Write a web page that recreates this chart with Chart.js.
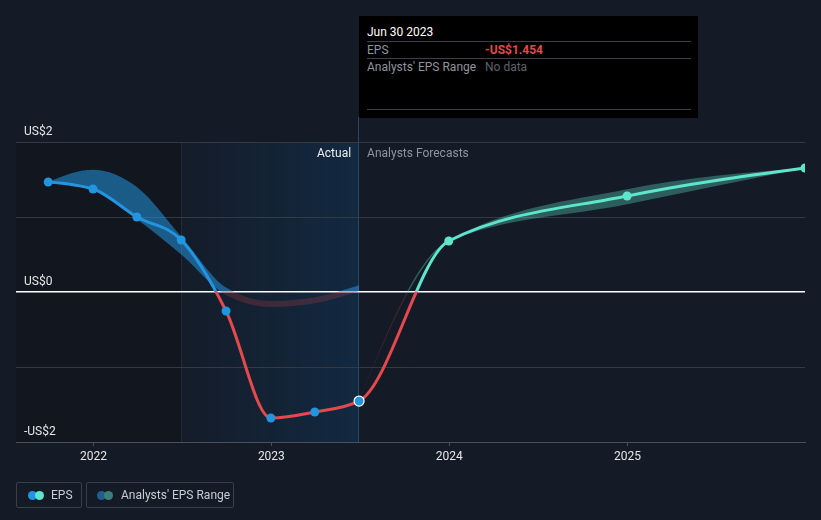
<!DOCTYPE html>
<html>
<head>
<meta charset="utf-8">
<script src="https://cdn.jsdelivr.net/npm/chart.js@4.4.0/dist/chart.umd.min.js"></script>
<style>
html,body{margin:0;padding:0;background:#151b26;}
#wrap{position:relative;width:821px;height:520px;font-family:Roboto,"Noto Sans",sans-serif;overflow:hidden;}
#c{position:absolute;left:0;top:0;}
#tip{position:absolute;left:359px;top:16px;width:339px;height:102px;background:#000;font-size:12px;}
#tip .t{position:absolute;left:8px;white-space:nowrap;line-height:14px;}
#tip .hr{position:absolute;left:8px;width:324px;height:1px;background:#3c3f44;}
.leg{position:absolute;top:482px;height:26px;border:1px solid #3a3f48;border-radius:2px;box-sizing:border-box;font-size:12px;color:#c9ccd1;}
.leg .d{position:absolute;top:8px;width:9px;height:9px;border-radius:50%;}
.leg .l{position:absolute;top:5px;line-height:14px;white-space:nowrap;}
</style>
</head>
<body>
<div id="wrap">
<canvas id="c" width="821" height="520"></canvas>
<div id="tip">
  <div class="t" style="top:9px;color:#ffffff;">Jun 30 2023</div>
  <div class="hr" style="top:25px;"></div>
  <div class="t" style="top:27px;color:#8f959d;">EPS</div>
  <div class="t" style="top:27px;left:126px;color:#e5484d;font-weight:bold;">-US$1.454</div>
  <div class="hr" style="top:42px;"></div>
  <div class="t" style="top:44px;color:#8f959d;">Analysts' EPS Range</div>
  <div class="t" style="top:44px;left:126px;color:#5e636b;">No data</div>
  <div class="hr" style="top:93px;"></div>
</div>
<div class="leg" style="left:16px;width:66px;">
  <div class="d" style="left:11px;background:#2394df;"></div>
  <div class="d" style="left:18px;background:#5fe5cc;"></div>
  <div class="l" style="left:34px;">EPS</div>
</div>
<div class="leg" style="left:86px;width:148px;">
  <div class="d" style="left:10px;background:#1f5f8f;"></div>
  <div class="d" style="left:17px;background:#3d7f78;"></div>
  <div class="l" style="left:34px;">Analysts' EPS Range</div>
</div>
</div>
<script>
// ---- data ----
const actualDates = ['2021-09-30','2021-12-31','2022-03-31','2022-06-30','2022-09-30','2022-12-31','2023-03-31','2023-06-30'];
const actualEps   = [1.467, 1.373, 1.0, 0.693, -0.253, -1.68, -1.6, -1.454];
const forecastDates = ['2023-12-31','2024-12-31','2025-12-31'];
const forecastEps   = [0.68, 1.28, 1.653];
const pastRangeHigh = [1.467, 1.63, 1.40, 0.74, 0.06, -0.12, -0.07, 0.09];
const pastRangeLow  = [1.467, 1.37, 0.97, 0.50, -0.04, -0.20, -0.15, 0.01];
const fcRangeDates = ['2023-06-30','2023-12-31','2024-12-31','2025-12-31'];
const fcRangeHigh  = [-1.454, 0.68, 1.37, 1.653];
const fcRangeLow   = [-1.454, 0.68, 1.17, 1.653];
const xTickDates  = ['2022-01-01','2023-01-01','2024-01-01','2025-01-01'];
const xTickLabels = ['2022','2023','2024','2025'];
const yTickValues = [-2,-1,0,1,2];
const yTickLabels = ['-US$2','','US$0','','US$2'];
const xMinDate = '2021-07-26', xMaxDate = '2025-12-31';
const rangeStartDate = '2022-06-30';   // start of shaded "Actual" window
const actualEndDate  = '2023-06-30';   // actual / forecast split

const ts = s => Date.parse(s + 'T00:00:00Z');
const pts = (d, v) => d.map((s, i) => ({x: ts(s), y: v[i]}));
const epsPoints = pts(actualDates, actualEps).concat(pts(forecastDates, forecastEps));
const lastActual = actualDates.length - 1;

const BLUE = '#2394df', RED = '#e5484d', TEAL = '#5fe5cc';

function signGrad(chart, pos, neg) {
  const {ctx, chartArea, scales} = chart;
  if (!chartArea || !scales.y) return pos;
  const y0 = scales.y.getPixelForValue(0);
  const g = ctx.createLinearGradient(0, chartArea.top, 0, chartArea.bottom);
  const f = Math.min(1, Math.max(0, (y0 - chartArea.top) / (chartArea.bottom - chartArea.top)));
  g.addColorStop(0, pos); g.addColorStop(f, pos); g.addColorStop(f, neg); g.addColorStop(1, neg);
  return g;
}

// monotone-X (Steffen) control points, same curve family as the original
const monoPlugin = {
  id: 'monoX',
  beforeDatasetsDraw(chart) {
    chart.data.datasets.forEach((ds, di) => {
      const meta = chart.getDatasetMeta(di);
      const line = meta.dataset;
      if (!line) return;
      line.updateControlPoints(chart.chartArea, 'x');
      const p = meta.data, n = p.length;
      if (n < 2) return;
      const sgn = v => v < 0 ? -1 : 1;
      const t = new Array(n);
      if (n === 2) {
        t[0] = t[1] = (p[1].y - p[0].y) / (p[1].x - p[0].x);
      } else {
        for (let i = 1; i < n - 1; i++) {
          const h0 = p[i].x - p[i-1].x, h1 = p[i+1].x - p[i].x;
          const s0 = (p[i].y - p[i-1].y) / h0, s1 = (p[i+1].y - p[i].y) / h1;
          const q = (s0 * h1 + s1 * h0) / (h0 + h1);
          t[i] = (sgn(s0) + sgn(s1)) * Math.min(Math.abs(s0), Math.abs(s1), 0.5 * Math.abs(q)) || 0;
        }
        t[0] = (3 * (p[1].y - p[0].y) / (p[1].x - p[0].x) - t[1]) / 2;
        t[n-1] = (3 * (p[n-1].y - p[n-2].y) / (p[n-1].x - p[n-2].x) - t[n-2]) / 2;
      }
      for (let i = 0; i < n - 1; i++) {
        const h = (p[i+1].x - p[i].x) / 3;
        p[i].cp2x = p[i].x + h; p[i].cp2y = p[i].y + t[i] * h;
        p[i+1].cp1x = p[i+1].x - h; p[i+1].cp1y = p[i+1].y - t[i+1] * h;
      }
      p[0].cp1x = p[0].x; p[0].cp1y = p[0].y;
      p[n-1].cp2x = p[n-1].x; p[n-1].cp2y = p[n-1].y;
    });
  }
};

const bgPlugin = {
  id: 'bgShade',
  beforeDraw(chart) {
    const {ctx, chartArea: a, scales: {x}} = chart;
    const xs = x.getPixelForValue(ts(rangeStartDate));
    const xe = x.getPixelForValue(ts(actualEndDate));
    ctx.save();
    ctx.fillStyle = 'rgba(0,0,0,0.18)';
    ctx.fillRect(a.left, a.top, xs - a.left, a.bottom - a.top);
    const g = ctx.createLinearGradient(xs, 0, xe, 0);
    g.addColorStop(0, 'rgba(14,70,120,0.04)');
    g.addColorStop(1, 'rgba(14,70,120,0.34)');
    ctx.fillStyle = g;
    ctx.fillRect(xs, a.top, xe - xs, a.bottom - a.top);
    ctx.strokeStyle = '#222c3a';
    ctx.lineWidth = 1;
    ctx.beginPath(); ctx.moveTo(Math.round(xs) + 0.5, a.top); ctx.lineTo(Math.round(xs) + 0.5, a.bottom); ctx.stroke();
    ctx.strokeStyle = '#2b4660';
    ctx.beginPath(); ctx.moveTo(Math.round(xe) - 0.5, 117); ctx.lineTo(Math.round(xe) - 0.5, a.bottom); ctx.stroke();
    ctx.font = '12px Roboto';
    ctx.textBaseline = 'middle';
    ctx.textAlign = 'right';
    ctx.fillStyle = '#eeeeee';
    ctx.fillText('Actual', xe - 8, a.top + 12);
    ctx.textAlign = 'left';
    ctx.fillStyle = '#8f959d';
    ctx.fillText('Analysts Forecasts', xe + 8, a.top + 12);
    ctx.restore();
  }
};

Chart.defaults.font.family = 'Roboto';

new Chart(document.getElementById('c'), {
  type: 'line',
  data: {
    datasets: [
      {
        label: 'EPS',
        data: epsPoints,
        borderWidth: 3,
        cubicInterpolationMode: 'monotone',
        borderColor: BLUE,
        segment: {
          borderColor: c => c.p0DataIndex >= lastActual
            ? signGrad(c.chart, TEAL, RED)
            : signGrad(c.chart, BLUE, RED)
        },
        pointRadius: c => c.dataIndex === lastActual ? 5 : 4.5,
        pointBackgroundColor: c => c.dataIndex > lastActual ? TEAL : BLUE,
        pointBorderColor: c => c.dataIndex === lastActual ? '#ffffff' : 'rgba(0,0,0,0)',
        pointBorderWidth: c => c.dataIndex === lastActual ? 1.2 : 0,
        fill: false
      },
      {
        label: 'past range high',
        data: pts(actualDates, pastRangeHigh),
        borderWidth: 0, pointRadius: 0,
        cubicInterpolationMode: 'monotone',
        backgroundColor: c => signGrad(c.chart, 'rgba(35,148,223,0.55)', 'rgba(229,72,77,0.2)'),
        fill: '+1'
      },
      {
        label: 'past range low',
        data: pts(actualDates, pastRangeLow),
        borderWidth: 0, pointRadius: 0,
        cubicInterpolationMode: 'monotone',
        fill: false
      },
      {
        label: 'fc range high',
        data: pts(fcRangeDates, fcRangeHigh),
        borderWidth: 0, pointRadius: 0,
        cubicInterpolationMode: 'monotone',
        backgroundColor: c => signGrad(c.chart, 'rgba(94,229,204,0.33)', 'rgba(229,72,77,0.2)'),
        fill: '+1'
      },
      {
        label: 'fc range low',
        data: pts(fcRangeDates, fcRangeLow),
        borderWidth: 0, pointRadius: 0,
        cubicInterpolationMode: 'monotone',
        fill: false
      }
    ]
  },
  options: {
    responsive: false,
    animation: false,
    events: [],
    layout: {padding: {left: 16, right: 16, top: 142, bottom: 48}},
    plugins: {legend: {display: false}, tooltip: {enabled: false}},
    scales: {
      x: {
        type: 'linear',
        min: ts(xMinDate), max: ts(xMaxDate),
        afterBuildTicks: s => { s.ticks = xTickDates.map(d => ({value: ts(d)})); },
        afterFit: s => { s.height = 30; },
        ticks: {
          autoSkip: false, maxRotation: 0,
          callback: (v, i) => xTickLabels[i],
          color: '#e6e6e6', font: {size: 12}, padding: 4
        },
        grid: {drawOnChartArea: false, drawTicks: true, tickLength: 4, color: '#4a4f58'},
        border: {display: true, color: '#4a4f58', width: 1}
      },
      y: {
        min: -2, max: 2,
        afterBuildTicks: s => { s.ticks = yTickValues.map(v => ({value: v})); },
        afterFit: s => { s.width = 0; },
        ticks: {
          autoSkip: false, mirror: true, padding: 8, labelOffset: -10,
          callback: (v, i) => yTickLabels[i],
          color: '#e6e6e6', font: {size: 12}
        },
        grid: {
          drawTicks: false,
          color: c => c.tick && c.tick.value === 0 ? '#ffffff' : (c.tick && c.tick.value === -2 ? '#4a4f58' : '#343a44'),
          lineWidth: c => c.tick && c.tick.value === 0 ? 1.5 : 1
        },
        border: {display: false}
      }
    }
  },
  plugins: [monoPlugin, bgPlugin]
});
</script>
</body>
</html>
